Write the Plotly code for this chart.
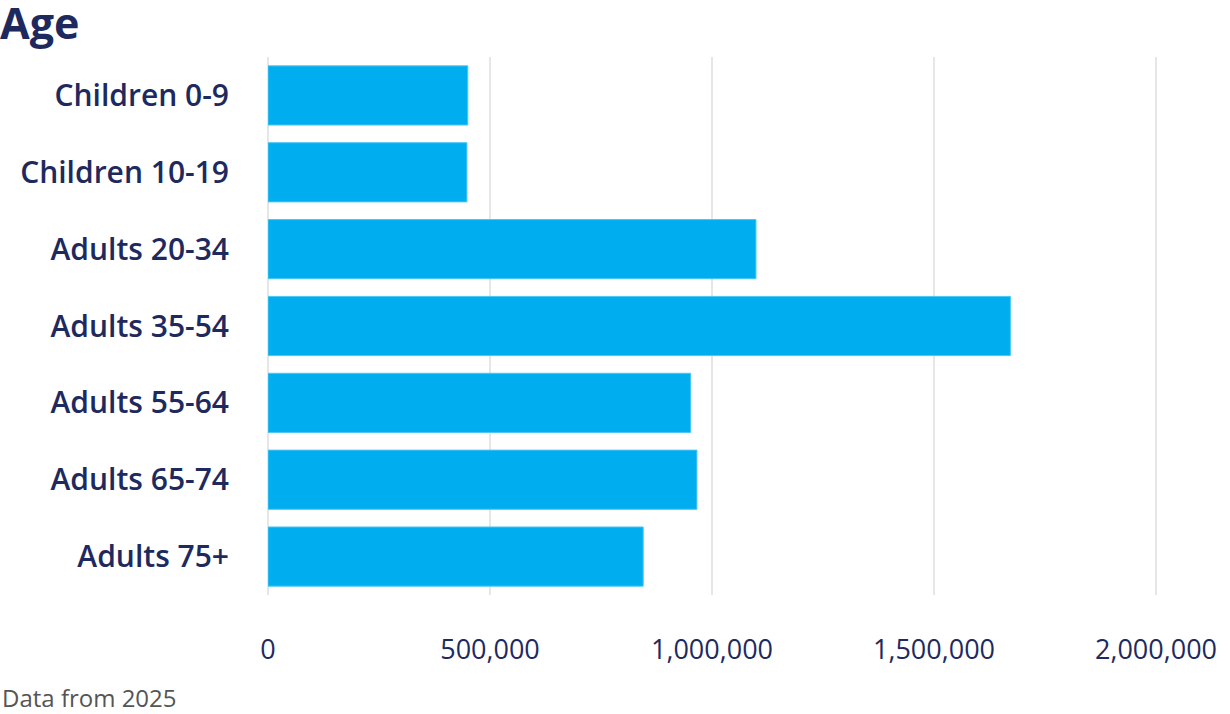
import plotly.graph_objects as go

# Age groups, top to bottom
age_groups = ["Children 0-9", "Children 10-19", "Adults 20-34", "Adults 35-54",
              "Adults 55-64", "Adults 65-74", "Adults 75+"]
people = [450000, 448000, 1099000, 1672000, 952000, 966000, 845000]

tick_vals = [0, 500000, 1000000, 1500000, 2000000]
tick_text = ["0", "500,000", "1,000,000", "1,500,000", "2,000,000"]

NAVY = "#1e2a5e"
BLUE = "#00aeef"

fig = go.Figure()
fig.add_trace(go.Bar(x=people, y=age_groups, orientation="h",
                     marker=dict(color=BLUE, line=dict(color="#4cc6f4", width=1)),
                     hoverinfo="x+y"))

fig.update_layout(
    width=1230, height=714,
    margin=dict(l=268, r=70, t=57, b=119, autoexpand=False),
    paper_bgcolor="white", plot_bgcolor="white",
    bargap=0.23,
    showlegend=False,
    font=dict(family="Open Sans", color=NAVY),
    title=dict(text="<b>Age</b>", x=0, xref="container", xanchor="left",
               y=1, yref="container", yanchor="top", pad=dict(t=9),
               font=dict(size=43, color=NAVY, family="Open Sans")),
    annotations=[dict(text="Data from 2025", xref="paper", yref="paper",
                      x=-268 / 892, y=-121 / 538, xanchor="left", yanchor="bottom",
                      showarrow=False,
                      font=dict(size=24, color="#555555", family="Open Sans"))],
)

fig.update_xaxes(range=[0, 2009000], tickvals=tick_vals, ticktext=tick_text,
                 showgrid=True, gridcolor="#e6e6e6", gridwidth=2,
                 zeroline=True, zerolinecolor="#e6e6e6", zerolinewidth=2,
                 showline=False, ticks="", automargin=False,
                 ticklabelstandoff=36,
                 tickfont=dict(size=27, color=NAVY, family="Open Sans"))
fig.update_yaxes(autorange="reversed", showgrid=False, ticks="", automargin=False,
                 ticklabelstandoff=38,
                 tickfont=dict(size=30, color=NAVY, family="Open Sans", weight=600))

# drop the browser's default body margin so the figure fills the window
fig.write_html("out.html", config={"displayModeBar": False},
               post_script="document.body.style.margin='0';")
